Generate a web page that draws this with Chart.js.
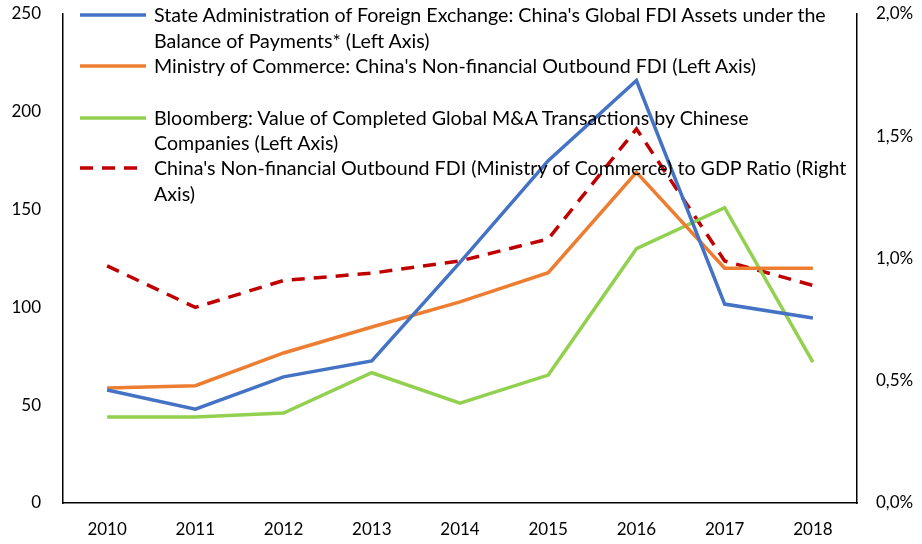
<!DOCTYPE html>
<html><head><meta charset="utf-8">
<script src="https://cdn.jsdelivr.net/npm/chart.js@4/dist/chart.umd.min.js"></script>
<style>
html,body{margin:0;padding:0;background:#fff;}
#wrap{position:relative;width:922px;height:544px;overflow:hidden;}
#c{position:absolute;left:0;top:0;}
.lgline{position:absolute;font-family:Lato, sans-serif;color:#000;white-space:nowrap;line-height:26px;height:26px;}
.lgsample{position:absolute;}
</style></head>
<body>
<div id="wrap"><canvas id="c" width="922" height="544"></canvas><div id="legend"></div></div>
<script>
// ---- data ----
const years = ['2010','2011','2012','2013','2014','2015','2016','2017','2018'];
const safeFdiAssets = [57.8, 48, 64.5, 72.6, 123, 175, 216, 101.7, 94.6];
const mofcomOutboundFdi = [58.8, 60, 76.7, 90, 102.8, 117.7, 169, 120, 120];
const bloombergMA = [44, 44, 46, 66.6, 51, 65.4, 130, 151, 72];
const fdiToGdpRatio = [0.97, 0.80, 0.91, 0.94, 0.99, 1.08, 1.53, 0.99, 0.89];
const leftTicks = [0, 50, 100, 150, 200, 250];
const rightTicks = [0, 0.5, 1.0, 1.5, 2.0];
const seriesLabels = [
  ["State Administration of Foreign Exchange: China's Global FDI Assets under the", "Balance of Payments* (Left Axis)"],
  ["Ministry of Commerce: China's Non-financial Outbound FDI (Left Axis)"],
  ["Bloomberg: Value of Completed Global M&A Transactions by Chinese", "Companies (Left Axis)"],
  ["China's Non-financial Outbound FDI (Ministry of Commerce) to GDP Ratio (Right", "Axis)"]
];

const FONT = 'Lato';
const colors = ['#4472C4', '#ED7D31', '#92D050', '#C00000'];
const dashes = [[], [], [], [13, 9]];

const fixW = (w) => function(scale){ scale.width = w; scale.paddingTop = 0; scale.paddingBottom = 0; };
const fixH = (h) => function(scale){ scale.height = h; scale.paddingLeft = 0; scale.paddingRight = 0; };

new Chart(document.getElementById('c'), {
  type: 'line',
  data: {
    labels: years,
    datasets: [
      {label: seriesLabels[0].join(' '), data: safeFdiAssets, yAxisID: 'y', borderColor: colors[0]},
      {label: seriesLabels[1].join(' '), data: mofcomOutboundFdi, yAxisID: 'y', borderColor: colors[1]},
      {label: seriesLabels[2].join(' '), data: bloombergMA, yAxisID: 'y', borderColor: colors[2]},
      {label: seriesLabels[3].join(' '), data: fdiToGdpRatio, yAxisID: 'y1', borderColor: colors[3], borderDash: dashes[3]}
    ].map(d => Object.assign({borderWidth: 3.5, pointRadius: 0, tension: 0, fill: false, borderCapStyle: 'butt', borderJoinStyle: 'miter'}, d))
  },
  options: {
    responsive: false,
    animation: false,
    devicePixelRatio: 1,
    layout: {padding: {top: 14, left: 0, right: 0, bottom: 0}},
    plugins: {legend: {display: false}, tooltip: {enabled: false}},
    scales: {
      x: {
        offset: true,
        grid: {display: false, drawTicks: false},
        border: {display: true, color: '#000', width: 1.5},
        ticks: {color: '#000', font: {family: FONT, size: 17}, padding: 16, maxRotation: 0},
        afterFit: fixH(41)
      },
      y: {
        position: 'left', min: 0, max: 250,
        afterBuildTicks: (s) => { s.ticks = leftTicks.map(v => ({value: v})); },
        grid: {display: false, drawTicks: false},
        border: {display: true, color: '#000', width: 1.5},
        ticks: {color: '#000', font: {family: FONT, size: 17}, padding: 22},
        afterFit: fixW(63)
      },
      y1: {
        position: 'right', min: 0, max: 2,
        afterBuildTicks: (s) => { s.ticks = rightTicks.map(v => ({value: v})); },
        grid: {display: false, drawTicks: false},
        border: {display: true, color: '#000', width: 1.5},
        ticks: {color: '#000', font: {family: FONT, size: 17}, padding: 19,
          callback: (v) => Number(v).toFixed(1).replace('.', ',') + '%'},
        afterFit: fixW(65)
      }
    }
  }
});

// ---- HTML legend ----
(function(){
  const rowCenters = [[15, 41], [66], [118, 143], [168, 194]];
  const lg = document.getElementById('legend');
  const textLeft = 154, sampleX0 = 80, sampleX1 = 146;
  const meas = document.createElement('canvas').getContext('2d');
  meas.font = '18px ' + FONT;
  const natural = meas.measureText(seriesLabels[0][0]).width;
  const fs = Math.max(12, Math.min(22, 18 * 674 / natural));
  seriesLabels.forEach((lines, i) => {
    const svgNS = 'http://www.w3.org/2000/svg';
    const svg = document.createElementNS(svgNS, 'svg');
    svg.setAttribute('width', sampleX1 - sampleX0);
    svg.setAttribute('height', 8);
    svg.setAttribute('class', 'lgsample');
    svg.style.left = sampleX0 + 'px';
    svg.style.top = (rowCenters[i][0] - 4) + 'px';
    const ln = document.createElementNS(svgNS, 'line');
    ln.setAttribute('x1', 0); ln.setAttribute('x2', sampleX1 - sampleX0);
    ln.setAttribute('y1', 4); ln.setAttribute('y2', 4);
    ln.setAttribute('stroke', colors[i]); ln.setAttribute('stroke-width', 3.5);
    if (dashes[i].length) ln.setAttribute('stroke-dasharray', dashes[i].join(' '));
    svg.appendChild(ln);
    lg.appendChild(svg);
    lines.forEach((t, j) => {
      const d = document.createElement('div');
      d.className = 'lgline';
      d.textContent = t;
      d.style.left = textLeft + 'px';
      d.style.top = (rowCenters[i][j] - 13) + 'px';
      d.style.fontSize = fs + 'px';
      lg.appendChild(d);
    });
  });
})();
</script>
</body></html>
